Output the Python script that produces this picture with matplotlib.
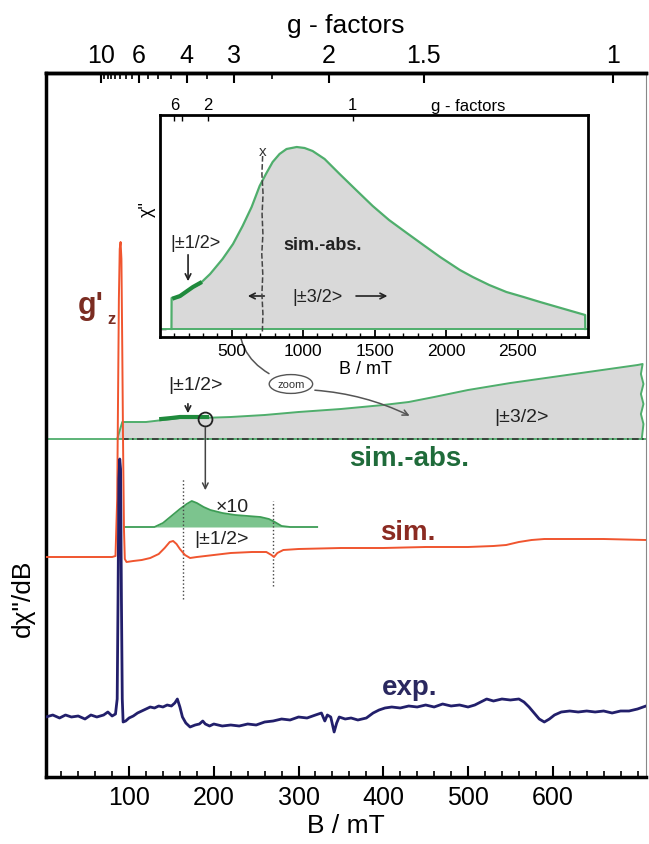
import numpy as np
import matplotlib.pyplot as plt

plt.rcParams['font.family'] = ['Liberation Sans', 'DejaVu Sans']

# resonance field constant h*nu/muB in mT (X-band, ~9.4 GHz)
res_field = 671.6

# ---- main panel data (B in mT, intensities in arbitrary units, relative to each baseline)
exp_b = [2, 10, 18, 25, 32, 40, 48, 55, 62, 70, 75, 80, 84, 86, 87, 88, 89, 90, 91, 92, 93, 96,
         100, 105, 110, 115, 120, 125, 130, 135, 140, 145, 150, 154, 157, 160, 163, 167, 172, 178,
         183, 187, 190, 195, 200, 210, 220, 230, 240, 250, 260, 270, 280, 290, 300, 310, 320, 327,
         331, 334, 338, 342, 345, 348, 355, 362, 370, 380, 388, 395, 402, 410, 420, 430, 440, 450,
         460, 470, 480, 490, 500, 508, 515, 522, 530, 540, 550, 560, 566, 572, 578, 584, 590, 596,
         602, 610, 620, 630, 640, 650, 660, 670, 680, 690, 700, 710]
exp_y = [-1, 1, -2, 1, -1, 0, -3, 1, -1, 1, 4, 0, 2, 17, 117, 237, 257, 247, 117, 17, -6, -5,
         -2, 0, 3, 5, 7, 9, 8, 10, 9, 11, 10, 13, 17, 9, -1, -7, -11, -9,
         -8, -5, -8, -10, -8, -10, -9, -10, -8, -9, -6, -5, -3, -4, -1, -2, 1, 3,
         -5, 1, -1, -16, -7, -1, -3, -2, -4, -2, 3, 6, 8, 9, 8, 10, 9, 11,
         9, 12, 10, 11, 9, 11, 14, 17, 15, 17, 16, 17, 14, 9, 3, -3, -6, -3,
         1, 4, 5, 4, 5, 4, 5, 3, 5, 5, 7, 10]

sim_b = [2, 40, 80, 84, 86, 87, 88, 89, 90, 91, 92, 93, 94, 95, 97, 105, 115, 125, 135, 142, 148,
         152, 156, 160, 166, 172, 180, 190, 200, 220, 245, 262, 268, 271, 275, 282, 300, 350, 400,
         450, 500, 530, 545, 560, 575, 590, 620, 660, 710]
sim_y = [0, 0, 0, 1, 58, 158, 258, 308, 315, 298, 208, 108, 28, -2, -5, -4, -3, -1, 3, 9, 15,
         16, 13, 8, 2, -1, 0, 1, 2, 4, 5, 5, 2, 0, 4, 7, 8, 9, 9,
         10, 10, 11, 12, 15, 17, 18, 18, 18, 17]

abs_b = [86, 92, 100, 120, 140, 160, 184, 220, 260, 300, 350, 400, 430, 460, 500, 550, 600, 650, 700, 706]
abs_y = [0, 17, 17, 17, 19, 21, 21, 22, 24, 27, 30, 34, 37, 42, 49, 56, 62, 68, 74, 75]
abs_edge_b = [704, 707, 704, 707, 704, 707, 705]
abs_edge_y = [65, 55, 45, 35, 25, 15, 0]
abs_hl_b = [138, 150, 160, 172, 184, 192]
abs_hl_y = [19, 20, 21, 21, 21, 21]

x10_b = [95, 130, 140, 150, 160, 168, 174, 180, 188, 196, 210, 225, 240, 255, 265, 272, 280, 290, 322]
x10_y = [0, 0, 4, 11, 18, 23, 26, 24, 20, 17, 14, 12, 11, 10, 8, 5, 1, 0, 0]

# g-factor ticks of the top axis
g_major = [10, 6, 4, 3, 2, 1.5, 1]
g_minor = [9.5, 9, 8.5, 8, 7.5, 7, 6.5, 5.5, 5, 4.5, 3.5, 2.5]

# ---- inset data (B in mT up to 3 T)
ins_b = [80, 81, 100, 137, 180, 230, 277, 350, 437, 510, 577, 640, 696, 740, 787, 835, 884, 955,
         1010, 1066, 1150, 1255, 1370, 1486, 1600, 1724, 1840, 1957, 2095, 2185, 2300, 2420, 2540,
         2655, 2800, 2970, 2971]
ins_y = [0, 31, 31, 32, 37, 42, 45, 55, 70, 85, 103, 122, 143, 155, 167, 175, 180, 182,
         181, 178, 170, 155, 139, 123, 109, 96, 84, 72, 59, 52, 44, 37, 32,
         27, 21, 14, 0]
ins_hl_b = [100, 140, 180, 230, 280]
ins_hl_y = [31, 33, 37, 42, 46]
ins_x_b = [717, 712, 720, 713, 719, 711, 718, 712, 719, 715]
ins_x_y = [181, 163, 143, 123, 103, 83, 63, 43, 23, 5]
ins_g_pos = [101, 157, 333, 1346]
ins_g_lab = ['6', '', '2', '1']

# baselines (vertical offsets of the stacked traces)
exp_off, sim_off, abs_off, x10_off = 61, 220, 338, 250
ins_off = 8

c_exp = '#221f6b'
c_sim = '#f0552f'
c_green = '#4fae6c'
c_dgreen = '#1f8a3c'
c_fill = '#d9d9d9'

fig = plt.figure(figsize=(6.49, 8.45), dpi=100)
ax = fig.add_axes([46/649, 1-778/845, 600/649, 704/845])
ax.set_xlim(2, 710)
ax.set_ylim(0, 704)
ax.set_yticks([])

# sim.-abs. trace
ax.axhline(abs_off, color=c_green, lw=1.3, zorder=2)
px = list(abs_b) + abs_edge_b
py = [v + abs_off for v in abs_y + abs_edge_y]
ax.fill(px, py, color=c_fill, lw=0, zorder=1)
ax.plot(px, py, color=c_green, lw=1.4, zorder=3)
ax.plot([92, 710], [abs_off, abs_off], color='#333333', lw=1.2, ls=(0, (4, 2, 1, 2)), zorder=3)
ax.plot(abs_hl_b, np.array(abs_hl_y) + abs_off + 1, color=c_dgreen, lw=3, zorder=4)

# sim. and exp.
ax.plot(sim_b, np.array(sim_y) + sim_off, color=c_sim, lw=1.4, zorder=4)
ax.plot(exp_b, np.array(exp_y) + exp_off, color=c_exp, lw=2, zorder=5)

# x10 zoom of the |+-1/2> part
x10 = np.array(x10_y) + x10_off
ax.fill_between(x10_b, x10_off, x10, color='#7cc48e', lw=0, zorder=2)
ax.plot(x10_b, x10, color='#3d9d55', lw=1.3, zorder=3)
ax.plot([164, 164], [178, 298], color='#444444', lw=1, ls=':', zorder=3)
ax.plot([270, 270], [191, 276], color='#444444', lw=1, ls=':', zorder=3)

# annotations
ax.plot([189.6], [358], marker='o', ms=10, mfc='none', mec='#222222', mew=1.3, zorder=6)
ax.annotate('', xy=(190, 284), xytext=(190, 352),
            arrowprops=dict(arrowstyle='->', color='#444444', lw=1.1))
ax.annotate('', xy=(169.5, 361), xytext=(169.5, 376),
            arrowprops=dict(arrowstyle='->', color='#222222', lw=1.2))
ax.text(179, 393, '|±1/2>', fontsize=14, ha='center', va='center', color='#222222')
ax.text(562.5, 361, '|±3/2>', fontsize=14, ha='center', va='center', color='#222222')
ax.text(221.5, 271, '×10', fontsize=14, ha='center', va='center', color='#222222')
ax.text(208.5, 238, '|±1/2>', fontsize=14, ha='center', va='center', color='#222222')
ax.text(430, 319, 'sim.-abs.', fontsize=20, fontweight='bold', ha='center', va='center', color='#1f6b3a')
ax.text(429, 245, 'sim.', fontsize=20, fontweight='bold', ha='center', va='center', color='#8b2b22')
ax.text(431, 90, 'exp.', fontsize=20, fontweight='bold', ha='center', va='center', color='#2a285f')
ax.text(55, 472, "g'", fontsize=22, fontweight='bold', ha='center', va='center', color='#7b2d22')
ax.text(79, 458, 'z', fontsize=12, fontweight='bold', ha='center', va='center', color='#7b2d22')
ax.text(291, 393, 'zoom', fontsize=8, ha='center', va='center', color='#333333',
        bbox=dict(boxstyle='ellipse,pad=0.15', fc='white', ec='#555555', lw=1))
ax.annotate('', xy=(268, 402), xytext=(231, 466),
            arrowprops=dict(arrowstyle='-', color='#555555', lw=1.1,
                            connectionstyle='arc3,rad=0.35'))
ax.annotate('', xy=(434, 360), xytext=(316, 387),
            arrowprops=dict(arrowstyle='->', color='#555555', lw=1.1,
                            connectionstyle='arc3,rad=-0.1'))

for s in ['left', 'bottom', 'top']:
    ax.spines[s].set_linewidth(2.5)
ax.spines['right'].set_linewidth(0.8)
ax.spines['right'].set_color('#888888')
ax.set_xticks([100, 200, 300, 400, 500, 600])
ax.set_xticks(np.arange(20, 710, 20), minor=True)
ax.tick_params(axis='x', which='major', direction='in', length=8, width=1.5, labelsize=18, pad=6)
ax.tick_params(axis='x', which='minor', direction='in', length=4, width=1.2)
ax.set_xlabel('B / mT', fontsize=19, labelpad=3)
fig.text(23/649, 1-598/845, 'dχ"/dB', fontsize=19, rotation=90, ha='center', va='center')

axt = ax.twiny()
axt.set_xlim(ax.get_xlim())
axt.set_xticks([res_field / g for g in g_major])
axt.set_xticklabels([str(g) for g in g_major])
axt.set_xticks([res_field / g for g in g_minor], minor=True)
axt.tick_params(axis='x', which='major', direction='in', length=7, width=1.5, labelsize=18, pad=4)
axt.tick_params(axis='x', which='minor', direction='in', length=4, width=1.2)
for s in ['left', 'bottom', 'right']:
    axt.spines[s].set_visible(False)
axt.spines['top'].set_linewidth(2.5)
axt.set_xlabel('g - factors', fontsize=19, labelpad=8)

# ---- inset
ai = fig.add_axes([160/649, 1-338/845, 428/649, 222/845])
ai.set_xlim(0, 2990)
ai.set_ylim(0, 222)
iy = np.array(ins_y) + ins_off
ai.fill(ins_b, iy, color=c_fill, lw=0, zorder=1)
ai.plot(ins_b, iy, color=c_green, lw=1.6, zorder=3)
ai.axhline(ins_off, color=c_green, lw=1.4, zorder=2)
ai.plot(ins_hl_b, np.array(ins_hl_y) + ins_off, color=c_dgreen, lw=3, zorder=4)
ai.plot(ins_x_b, ins_x_y, color='#444444', lw=1.1, ls='--', zorder=4)
ai.text(720, 186, 'x', fontsize=11, ha='center', va='center', color='#333333')
ai.text(245, 95, '|±1/2>', fontsize=13, ha='center', va='center', color='#222222')
ai.annotate('', xy=(196, 53), xytext=(196, 85),
            arrowprops=dict(arrowstyle='->', color='#222222', lw=1.2))
ai.text(1133, 93, 'sim.-abs.', fontsize=13, fontweight='bold', ha='center', va='center', color='#222222')
ai.text(1098, 41, '|±3/2>', fontsize=13, ha='center', va='center', color='#222222')
ai.annotate('', xy=(594, 41), xytext=(748, 41),
            arrowprops=dict(arrowstyle='->', color='#222222', lw=1.2))
ai.annotate('', xy=(1608, 41), xytext=(1350, 41),
            arrowprops=dict(arrowstyle='->', color='#222222', lw=1.2))
for s in ai.spines.values():
    s.set_linewidth(2)
ai.set_xticks([500, 1000, 1500, 2000, 2500])
ai.set_xticks(np.arange(100, 2990, 100), minor=True)
ai.tick_params(axis='x', which='major', direction='in', length=5, width=1.3, labelsize=12.5, pad=4)
ai.tick_params(axis='x', which='minor', direction='in', length=3, width=1)
ai.set_yticks([ins_off])
ai.set_yticklabels([])
ai.tick_params(axis='y', direction='in', length=4, width=1)
ai.set_xlabel('B / mT', fontsize=13, labelpad=0)
ai.xaxis.set_label_coords(0.479, -0.105)
ai.text(-0.03, 0.58, 'χ"', fontsize=13, rotation=90, ha='center', va='center', transform=ai.transAxes)

ait = ai.twiny()
ait.set_xlim(ai.get_xlim())
ait.set_xticks(ins_g_pos)
ait.set_xticklabels(ins_g_lab)
ait.tick_params(axis='x', direction='in', length=4, width=1, labelsize=12, pad=2)
for s in ait.spines.values():
    s.set_visible(False)
fig.text(468/649, 1-106/845, 'g - factors', fontsize=12, ha='center', va='center')

fig.savefig('out.png', dpi=100)
